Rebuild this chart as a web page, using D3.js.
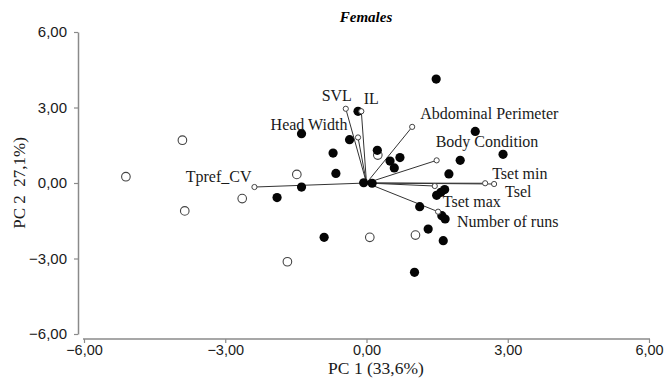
<!DOCTYPE html>
<html>
<head>
<meta charset="utf-8">
<script src="https://cdn.jsdelivr.net/npm/d3@7"></script>
<style>
  html, body { margin: 0; padding: 0; background: #fff; }
  svg { display: block; }
</style>
</head>
<body>
<div id="chart"></div>
<script>
// Scores of individuals (filled = one group, open = other)
const filledX = [1.48, -0.18, 2.31, -1.38, -0.36, 0.23, -0.71, 0.71, 0.50, 0.59, 1.99, 2.90, -0.65, 1.75,
  -0.06, 0.12, -1.38, -1.90, 1.66, 1.58, 1.49, 1.13, 1.60, 1.67, 1.31, -0.90, 1.63, 1.02];
const filledY = [4.13, 2.85, 2.05, 1.96, 1.72, 1.30, 1.19, 1.01, 0.87, 0.60, 0.90, 1.14, 0.38, 0.36,
  0.01, -0.01, -0.16, -0.58, -0.26, -0.37, -0.49, -0.94, -1.30, -1.43, -1.83, -2.16, -2.29, -3.55];
const openX = [-3.91, -5.11, -3.86, -2.64, -1.48, 0.24, 0.07, 1.04, -1.68];
const openY = [1.70, 0.25, -1.11, -0.62, 0.34, 1.11, -2.16, -2.07, -3.13];

// Variable loadings
const varNames = ["SVL", "IL", "Head Width", "Abdominal Perimeter", "Body Condition",
  "Tset min", "Tsel", "Tset max", "Number of runs", "Tpref_CV"];
const varX = [-0.44, -0.11, -0.18, 0.97, 1.49, 2.52, 2.71, 1.45, 1.52, -2.38];
const varY = [2.95, 2.85, 1.81, 2.23, 0.90, -0.01, -0.04, -0.12, -1.14, -0.16];

const xTicks = [-6, -3, 0, 3, 6];
const yTicks = [-6, -3, 0, 3, 6];

const width = 668, height = 382;
const fmt = d => d3.format(".2f")(d).replace(".", ",");

const svg = d3.select("#chart").append("svg")
  .attr("width", width)
  .attr("height", height);

const x = d3.scaleLinear().domain([-6, 6]).range([84, 649]);
const y = d3.scaleLinear().domain([-6, 6]).range([334, 32]);

// axes (offset from the plot corner like the original)
const xAxis = svg.append("g")
  .attr("transform", "translate(0,339)")
  .call(d3.axisBottom(x).tickValues(xTicks).tickFormat(fmt).tickSize(4).tickSizeOuter(0));
xAxis.select(".domain").attr("d", `M${x(-6) - 1},0H${x(6) + 1}`);

const yAxis = svg.append("g")
  .attr("transform", "translate(78,0)")
  .call(d3.axisLeft(y).tickValues(yTicks).tickFormat(fmt).tickSize(4).tickSizeOuter(0));

svg.selectAll(".domain").attr("stroke", "#8a8a8a").attr("stroke-width", 1.5);
svg.selectAll(".tick line").attr("stroke", "#8a8a8a").attr("stroke-width", 1.2);
svg.selectAll(".tick text")
  .attr("font-family", "'Liberation Sans', Arial, sans-serif")
  .attr("font-size", 15)
  .attr("fill", "#1a1a1a");
xAxis.selectAll(".tick text")
  .attr("font-size", 14.5)
  .attr("y", 6).attr("dy", "0.68em");
yAxis.selectAll(".tick text").attr("x", -11);

// titles
svg.append("text")
  .attr("x", 366).attr("y", 21.5)
  .attr("text-anchor", "middle")
  .attr("font-family", "'Liberation Serif', 'Times New Roman', serif")
  .attr("font-weight", "bold").attr("font-style", "italic")
  .attr("font-size", 15)
  .text("Females");

svg.append("text")
  .attr("x", 376).attr("y", 374)
  .attr("text-anchor", "middle")
  .attr("font-family", "'Liberation Serif', 'Times New Roman', serif")
  .attr("font-size", 17.5).attr("fill", "#1a1a1a")
  .text("PC 1 (33,6%)");

svg.append("text")
  .attr("transform", "translate(25,183) rotate(-90)")
  .attr("text-anchor", "middle")
  .attr("font-family", "'Liberation Serif', 'Times New Roman', serif")
  .attr("font-size", 17).attr("fill", "#1a1a1a")
  .text("PC 2\u00a0 27,1%)");

// loading vectors
const vars = varNames.map((n, i) => ({ name: n, x: varX[i], y: varY[i] }));
svg.append("g").selectAll("line")
  .data(vars).enter().append("line")
  .attr("x1", x(0)).attr("y1", y(0))
  .attr("x2", d => x(d.x)).attr("y2", d => y(d.y))
  .attr("stroke", "#333").attr("stroke-width", 1);

// individuals
const filled = filledX.map((v, i) => [v, filledY[i]]);
const open = openX.map((v, i) => [v, openY[i]]);

svg.append("g").selectAll("circle")
  .data(open).enter().append("circle")
  .attr("cx", d => x(d[0])).attr("cy", d => y(d[1]))
  .attr("r", 4.3)
  .attr("fill", "#fff").attr("stroke", "#444").attr("stroke-width", 1.1);

svg.append("g").selectAll("circle")
  .data(filled).enter().append("circle")
  .attr("cx", d => x(d[0])).attr("cy", d => y(d[1]))
  .attr("r", 4.6)
  .attr("fill", "#050505");

// vector endpoints
svg.append("g").selectAll("circle")
  .data(vars).enter().append("circle")
  .attr("cx", d => x(d.x)).attr("cy", d => y(d.y))
  .attr("r", 2.6)
  .attr("fill", "#fff").attr("stroke", "#444").attr("stroke-width", 1);

// label placement relative to the vector tip (pixels)
const labelPos = {
  "SVL": [-9, -8, "middle"],
  "IL": [10, -7, "middle"],
  "Head Width": [-49, -7, "middle"],
  "Abdominal Perimeter": [8, -8, "start"],
  "Body Condition": [-1, -13, "start"],
  "Tset min": [7, -4, "start"],
  "Tsel": [11, 13, "start"],
  "Tset max": [8, 21, "start"],
  "Number of runs": [19, 15, "start"],
  "Tpref_CV": [-3, -5, "end"]
};

svg.append("g").selectAll("text")
  .data(vars).enter().append("text")
  .attr("x", d => x(d.x) + labelPos[d.name][0])
  .attr("y", d => y(d.y) + labelPos[d.name][1])
  .attr("text-anchor", d => labelPos[d.name][2])
  .attr("font-family", "'Liberation Serif', 'Times New Roman', serif")
  .attr("font-size", 16).attr("fill", "#1a1a1a")
  .text(d => d.name);
</script>
</body>
</html>
